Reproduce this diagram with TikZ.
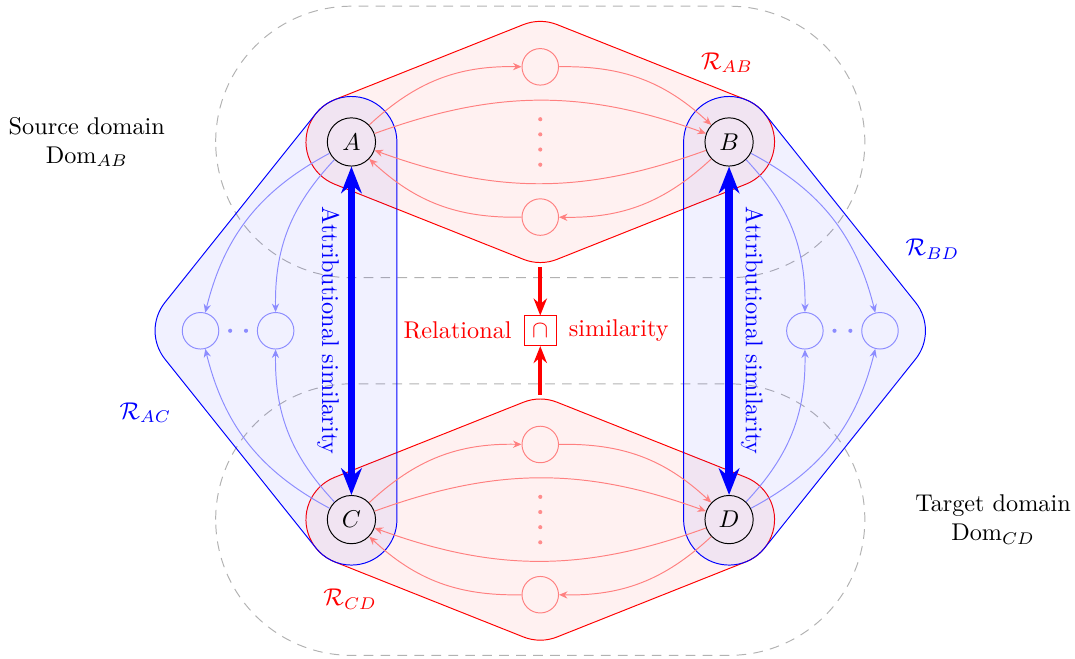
\documentclass[tikz,border=0pt]{standalone}
\usetikzlibrary{arrows.meta,calc,backgrounds,positioning}
\begin{document}
\begin{tikzpicture}[
    ent/.style={circle, draw, minimum size=0.7cm, inner sep=0pt},
    relnode/.style={circle, draw=red!50, minimum size=0.53cm, inner sep=0pt},
    attnode/.style={circle, draw=blue!45, minimum size=0.53cm, inner sep=0pt},
    reledge/.style={red!50, -{Stealth[length=3.5pt, width=3pt]}},
    attedge/.style={blue!45, -{Stealth[length=3.5pt, width=3pt]}},
    relhull/.style={draw=red, fill=red, fill opacity=0.055},
    atthull/.style={draw=blue, fill=blue, fill opacity=0.055},
    dombox/.style={gray!60, dash pattern=on 4pt off 3pt},
    attarrow/.style={blue, line width=3.2pt, {Stealth[length=11pt, width=8.5pt, inset=3.5pt]}-{Stealth[length=11pt, width=8.5pt, inset=3.5pt]}},
    attlabel/.style={blue, rotate=-90},
    relarrow/.style={red, line width=1.5pt, -{Stealth[length=7pt, width=5.5pt]}}
]
    \useasboundingbox (-7.84,-4.75) rectangle (7.76,4.80);
    \def\hr{0.66}

    \node[ent] (A) at (-2.74, 2.74) {$A$};
    \node[ent] (B) at (2.74, 2.74) {$B$};
    \node[ent] (C) at (-2.74, -2.74) {$C$};
    \node[ent] (D) at (2.74, -2.74) {$D$};

    \node[relnode] (ab1) at (0, 3.83) {};
    \node[relnode] (ab2) at (0, 1.65) {};
    \node[relnode] (cd1) at (0, -1.65) {};
    \node[relnode] (cd2) at (0, -3.83) {};
    \node[attnode] (ac1) at (-4.93, 0) {};
    \node[attnode] (ac2) at (-3.84, 0) {};
    \node[attnode] (bd1) at (3.84, 0) {};
    \node[attnode] (bd2) at (4.93, 0) {};

    \begin{scope}[on background layer]
        \draw[dombox, rounded corners=1.97cm] ($(A)+(-1.97,-1.97)$) rectangle ($(B)+(1.97,1.97)$);
        \draw[dombox, rounded corners=1.97cm] ($(C)+(-1.97,-1.97)$) rectangle ($(D)+(1.97,1.97)$);

        \path[relhull] ($(A)+(111.69:\hr)$) -- ($(ab1)+(111.69:\hr)$)
            arc[start angle=111.69, end angle=68.31, radius=\hr] -- ($(B)+(68.31:\hr)$)
            arc[start angle=68.31, end angle=-68.31, radius=\hr] -- ($(ab2)+(-68.31:\hr)$)
            arc[start angle=-68.31, end angle=-111.69, radius=\hr] -- ($(A)+(-111.69:\hr)$)
            arc[start angle=248.31, end angle=111.69, radius=\hr] -- cycle;
        \path[relhull] ($(C)+(111.69:\hr)$) -- ($(cd1)+(111.69:\hr)$)
            arc[start angle=111.69, end angle=68.31, radius=\hr] -- ($(D)+(68.31:\hr)$)
            arc[start angle=68.31, end angle=-68.31, radius=\hr] -- ($(cd2)+(-68.31:\hr)$)
            arc[start angle=-68.31, end angle=-111.69, radius=\hr] -- ($(C)+(-111.69:\hr)$)
            arc[start angle=248.31, end angle=111.69, radius=\hr] -- cycle;
        \path[atthull] ($(A)+(0:\hr)$) -- ($(C)+(0:\hr)$)
            arc[start angle=0, end angle=-141.37, radius=\hr] -- ($(ac1)+(-141.37:\hr)$)
            arc[start angle=-141.37, end angle=-218.63, radius=\hr] -- ($(A)+(141.37:\hr)$)
            arc[start angle=141.37, end angle=0, radius=\hr] -- cycle;
        \path[atthull] ($(B)+(38.63:\hr)$) -- ($(bd2)+(38.63:\hr)$)
            arc[start angle=38.63, end angle=-38.63, radius=\hr] -- ($(D)+(-38.63:\hr)$)
            arc[start angle=-38.63, end angle=-180, radius=\hr] -- ($(B)+(180:\hr)$)
            arc[start angle=180, end angle=38.63, radius=\hr] -- cycle;
    \end{scope}

    \foreach \y in {-0.33, -0.11, 0.11, 0.33} {
        \fill[red!45] (0, 2.74+\y) circle (0.03);
        \fill[red!45] (0, -2.74+\y) circle (0.03);
    }
    \foreach \x in {-0.115, 0.115} {
        \fill[blue!45] (-4.385+\x, 0) circle (0.03);
        \fill[blue!45] (4.385+\x, 0) circle (0.03);
    }

    \draw[reledge] (A) to[bend left=22] (ab1);
    \draw[reledge] (ab1) to[bend left=22] (B);
    \draw[reledge] (A) to[bend left=20] (B);
    \draw[reledge] (B) to[bend left=20] (A);
    \draw[reledge] (B) to[bend left=22] (ab2);
    \draw[reledge] (ab2) to[bend left=22] (A);

    \draw[reledge] (C) to[bend left=22] (cd1);
    \draw[reledge] (cd1) to[bend left=22] (D);
    \draw[reledge] (C) to[bend left=20] (D);
    \draw[reledge] (D) to[bend left=20] (C);
    \draw[reledge] (D) to[bend left=22] (cd2);
    \draw[reledge] (cd2) to[bend left=22] (C);

    \draw[attedge] (A) to[bend right=24] (ac1);
    \draw[attedge] (A) to[bend right=22] (ac2);
    \draw[attedge] (C) to[bend left=24] (ac1);
    \draw[attedge] (C) to[bend left=22] (ac2);
    \draw[attedge] (B) to[bend left=22] (bd1);
    \draw[attedge] (B) to[bend left=24] (bd2);
    \draw[attedge] (D) to[bend right=22] (bd1);
    \draw[attedge] (D) to[bend right=24] (bd2);

    \draw[attarrow] (A) -- (C) node[attlabel, midway, anchor=north] {Attributional similarity};
    \draw[attarrow] (B) -- (D) node[attlabel, midway, anchor=south] {Attributional similarity};

    \node[draw=red, text=red] (cap) at (0, 0) {$\cap$};
    \node[red, left=0.05cm of cap] (rel) {Relational};
    \node[red, right=0.05cm of cap] (sim) {similarity};
    \coordinate (abgap) at (0, 0.92);
    \coordinate (cdgap) at (0, -0.93);
    \draw[relarrow] (abgap) -- (cap);
    \draw[relarrow] (cdgap) -- (cap);

    \node[red] (rab) at (2.71, 3.89) {$\mathcal{R}_{AB}$};
    \node[red] (rcd) at (-2.76, -3.90) {$\mathcal{R}_{CD}$};
    \node[blue] (rbd) at (5.69, 1.18) {$\mathcal{R}_{BD}$};
    \node[blue] (rac) at (-5.73, -1.19) {$\mathcal{R}_{AC}$};

    \node[align=center] (src) at (-6.58, 2.74) {Source domain\\$\mathrm{Dom}_{AB}$};
    \node[align=center] (tgt) at (6.57, -2.74) {Target domain\\$\mathrm{Dom}_{CD}$};
\end{tikzpicture}
\end{document}
